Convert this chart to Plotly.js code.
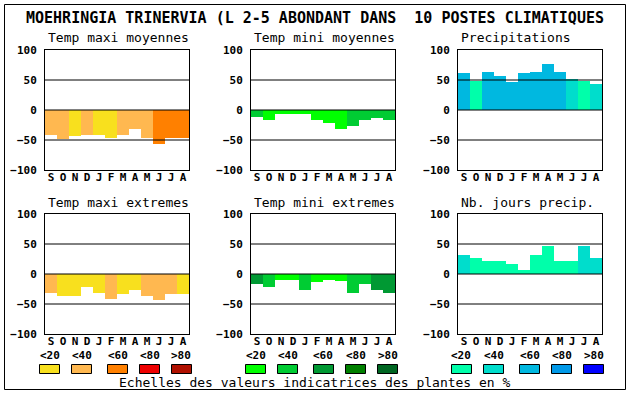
<!DOCTYPE html>
<html><head><meta charset="utf-8">
<script src="https://cdn.plot.ly/plotly-3.0.1.min.js"></script>
<style>html,body{margin:0;padding:0;background:#fff}#chart{width:630px;height:394px}</style>
</head><body><div id="chart"></div>
<script>
// ---- data ----
const months = ['S','O','N','D','J','F','M','A','M','J','J','A'];
const yTicks = [-100, -50, 0, 50, 100];
const gridValues = [-50, 0, 50];
const classLabels = ['<20', '<40', '<60', '<80', '>80'];
const warmColors = ['#F8E01E', '#FFB850', '#FF8000', '#EE0000', '#B01000'];
const greenColors = ['#00FF00', '#00CC33', '#009933', '#008000', '#006622'];
const blueColors = ['#00FFAA', '#00DDCC', '#00B8E0', '#0099E8', '#0000FF'];

const chartTitle = 'MOEHRINGIA TRINERVIA (L 2-5 ABONDANT DANS  10 POSTES CLIMATIQUES';
const footerText = 'Echelles des valeurs indicatrices des plantes en %';

const maxiMoyTitle = 'Temp maxi moyennes';
const maxiMoyValues = [-42, -49, -44, -41, -42, -46, -42, -31, -47, -56, -47, -47];
const maxiMoyClasses = [1, 1, 0, 1, 0, 0, 1, 1, 1, 2, 2, 2];

const miniMoyTitle = 'Temp mini moyennes';
const miniMoyValues = [-11, -17, -7, -6, -6, -17, -21, -31, -27, -16, -14, -17];
const miniMoyClasses = [1, 0, 0, 0, 0, 0, 0, 0, 1, 1, 1, 1];

const precipTitle = 'Precipitations';
const precipValues = [61, 48, 64, 57, 46, 62, 64, 77, 64, 52, 49, 44];
const precipClasses = [2, 0, 2, 2, 2, 2, 2, 2, 2, 1, 0, 1];

const maxiExtTitle = 'Temp maxi extremes';
const maxiExtValues = [-32, -37, -37, -21, -31, -42, -34, -27, -36, -44, -34, -34];
const maxiExtClasses = [1, 0, 0, 0, 0, 1, 0, 0, 1, 1, 1, 0];

const miniExtTitle = 'Temp mini extremes';
const miniExtValues = [-17, -21, -10, -10, -26, -14, -10, -12, -31, -17, -27, -31];
const miniExtClasses = [2, 1, 0, 0, 1, 0, 0, 0, 1, 1, 2, 2];

const joursTitle = 'Nb. jours precip.';
const joursValues = [32, 26, 21, 22, 17, 7, 31, 47, 22, 21, 47, 27];
const joursClasses = [1, 0, 0, 0, 0, 0, 0, 0, 0, 0, 1, 1];

// ---- layout helpers ----
const W = 630, H = 394;
const MONO = 'DejaVu Sans Mono, Liberation Mono, monospace';
const colLeft = [45, 251, 458];
const rowTop = [50, 214];
const plotW = 144, plotH = 120;
const px = v => v / W;
const py = v => (H - v) / H;

const panels = [
  {title: maxiMoyTitle, values: maxiMoyValues, classes: maxiMoyClasses, palette: warmColors, col: 0, row: 0},
  {title: miniMoyTitle, values: miniMoyValues, classes: miniMoyClasses, palette: greenColors, col: 1, row: 0},
  {title: precipTitle, values: precipValues, classes: precipClasses, palette: blueColors, col: 2, row: 0},
  {title: maxiExtTitle, values: maxiExtValues, classes: maxiExtClasses, palette: warmColors, col: 0, row: 1},
  {title: miniExtTitle, values: miniExtValues, classes: miniExtClasses, palette: greenColors, col: 1, row: 1},
  {title: joursTitle, values: joursValues, classes: joursClasses, palette: blueColors, col: 2, row: 1}
];

const data = [];
const shapes = [];
const annotations = [];
const layout = {
  width: W, height: H,
  margin: {l: 0, r: 0, t: 0, b: 0},
  paper_bgcolor: '#fff', plot_bgcolor: '#fff',
  showlegend: false, bargap: 0,
  shapes: shapes, annotations: annotations
};

const idx = months.map((m, i) => i);

panels.forEach((p, k) => {
  const n = k + 1;
  const xa = n === 1 ? 'x' : 'x' + n;
  const ya = n === 1 ? 'y' : 'y' + n;
  const left = colLeft[p.col], top = rowTop[p.row];
  data.push({
    type: 'bar', x: idx, y: p.values, width: 1,
    marker: {color: p.classes.map(c => p.palette[c]), line: {width: 0}},
    xaxis: xa, yaxis: ya, hoverinfo: 'skip'
  });
  layout[n === 1 ? 'xaxis' : 'xaxis' + n] = {
    domain: [px(left), px(left + plotW)], anchor: ya,
    range: [-0.5, 11.5], tickvals: idx, ticktext: months,
    showgrid: false, zeroline: false, showline: true, mirror: true,
    linecolor: '#000', linewidth: 1, ticks: '', fixedrange: true,
    ticklabelstandoff: -3,
    tickfont: {family: MONO, size: 11, color: '#000', weight: 'bold'}
  };
  layout[n === 1 ? 'yaxis' : 'yaxis' + n] = {
    domain: [py(top + plotH), py(top)], anchor: xa,
    range: [-100, 100], tickvals: yTicks,
    showgrid: false, zeroline: false, showline: true, mirror: true,
    linecolor: '#000', linewidth: 1, ticks: '', fixedrange: true,
    ticklabelstandoff: 5,
    tickfont: {family: MONO, size: 11, color: '#000', weight: 'bold'}
  };
  gridValues.forEach(v => {
    shapes.push({type: 'line', xref: xa + ' domain', yref: ya, x0: 0, x1: 1, y0: v, y1: v,
      line: {color: '#000', width: 1}, layer: 'above'});
  });
  annotations.push({
    text: p.title, xref: 'paper', yref: 'paper', x: px(left + 1), y: py(top - 12),
    xanchor: 'left', yanchor: 'middle', showarrow: false,
    font: {family: MONO, size: 13, color: '#000'}
  });
});

// title + footer
annotations.push({
  text: chartTitle, xref: 'paper', yref: 'paper', x: px(315), y: py(18),
  xanchor: 'center', yanchor: 'middle', showarrow: false,
  font: {family: MONO, size: 15, color: '#000', weight: 'bold'}
});
annotations.push({
  text: footerText, xref: 'paper', yref: 'paper', x: px(315), y: py(382),
  xanchor: 'center', yanchor: 'middle', showarrow: false,
  font: {family: MONO, size: 13, color: '#000'}
});

// outer frame
shapes.push({type: 'rect', xref: 'paper', yref: 'paper', x0: px(4.5), x1: px(625.5), y0: py(389.5), y1: py(4.5),
  line: {color: '#000', width: 1}, fillcolor: 'rgba(0,0,0,0)'});

// colour scale legends
const groupStarts = [39, 245, 451];
const boxOffsets = [0, 32, 68, 100, 132];
[warmColors, greenColors, blueColors].forEach((pal, g) => {
  pal.forEach((c, i) => {
    const x0 = groupStarts[g] + boxOffsets[i];
    shapes.push({type: 'rect', xref: 'paper', yref: 'paper',
      x0: px(x0 + 0.5), x1: px(x0 + 20.5), y0: py(373.5), y1: py(364.5),
      fillcolor: c, line: {color: '#000', width: 1}});
    annotations.push({
      text: classLabels[i], xref: 'paper', yref: 'paper', x: px(x0 + 10.5), y: py(355),
      xanchor: 'center', yanchor: 'middle', showarrow: false,
      font: {family: MONO, size: 11, color: '#000', weight: 'bold'}
    });
  });
});

Plotly.newPlot('chart', data, layout, {staticPlot: true, displayModeBar: false});
</script>
</body></html>
